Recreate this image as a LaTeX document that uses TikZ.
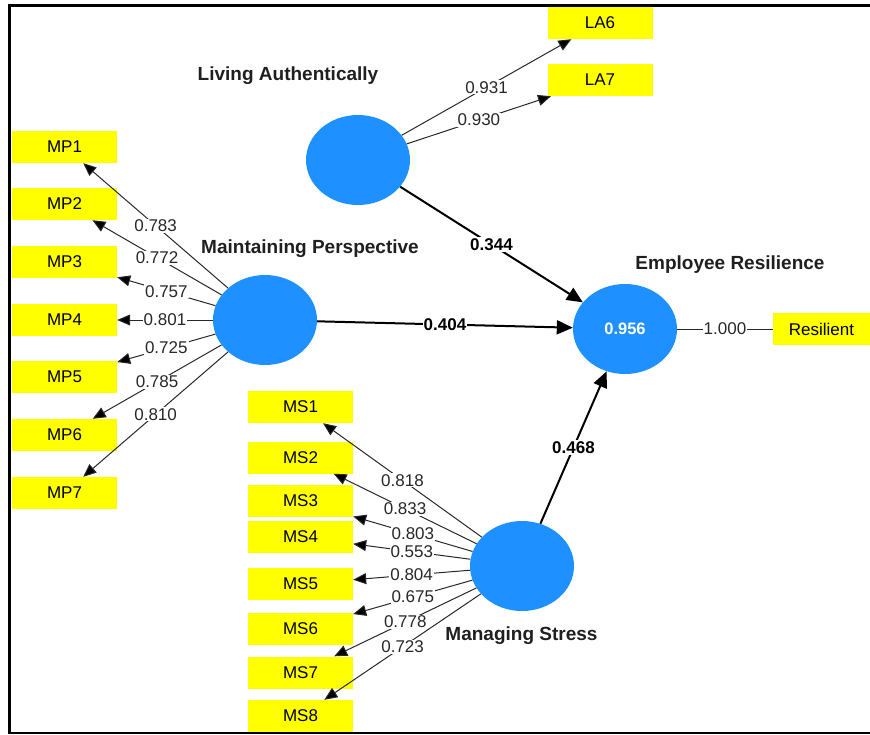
\documentclass[tikz,border=0pt]{standalone}
\usepackage{fontspec}
\setmainfont{Liberation Sans}
\usetikzlibrary{arrows.meta,shapes.geometric}

\definecolor{lvblue}{RGB}{30,144,255}
\definecolor{indyellow}{RGB}{255,255,0}
\definecolor{loadgray}{RGB}{40,40,40}

\begin{document}
\begin{tikzpicture}[x=1pt,y=-1pt,
  latent/.style={ellipse, fill=lvblue, minimum width=104pt, minimum height=90pt,
    inner sep=0pt, text=white, font=\fontsize{16.5}{19}\selectfont\bfseries},
  indicator/.style={rectangle, fill=indyellow, minimum width=105pt, minimum height=32pt,
    inner sep=0pt, text=black, font=\fontsize{17}{19}\selectfont},
  lvname/.style={text=black!88, font=\fontsize{19}{22}\selectfont\bfseries},
  loading/.style={draw=loadgray, line width=1pt,
    -{Triangle[length=13pt,width=11pt,fill=black]}},
  path/.style={draw=black, line width=2pt, -{Triangle[length=16pt,width=14pt]}},
  loadlbl/.style={midway, fill=white, inner sep=1pt, text=loadgray,
    font=\fontsize{17}{19}\selectfont},
  pathlbl/.style={midway, fill=white, inner sep=1pt, text=black,
    font=\fontsize{17}{19}\selectfont\bfseries}]

\useasboundingbox (0,0) rectangle (870,734);

% frame
\draw[line width=3pt] (9.5,734) -- (9.5,5.5) -- (870,5.5);
\draw[line width=2pt] (8,733) -- (870,733);

% latent variables
\node[latent] (LA) at (358,160) {};
\node[latent] (MP) at (265,320) {};
\node[latent] (ER) at (625,329) {0.956};
\node[latent] (MS) at (522,566) {};

\node[lvname] (LAname) at (288,76) {Living Authentically};
\node[lvname] (MPname) at (310,249) {Maintaining Perspective};
\node[lvname] (ERname) at (730,265) {Employee Resilience};
\node[lvname] (MSname) at (521.5,636) {Managing Stress};

% indicators
\node[indicator] (LA6) at (600,23) {LA6};
\node[indicator] (LA7) at (600,80) {LA7};

\node[indicator] (MP1) at (64.5,147) {MP1};
\node[indicator] (MP2) at (64.5,204) {MP2};
\node[indicator] (MP3) at (64.5,262) {MP3};
\node[indicator] (MP4) at (64.5,320) {MP4};
\node[indicator] (MP5) at (64.5,377) {MP5};
\node[indicator] (MP6) at (64.5,435) {MP6};
\node[indicator] (MP7) at (64.5,493) {MP7};

\node[indicator] (MS1) at (300.5,407) {MS1};
\node[indicator] (MS2) at (300.5,457.5) {MS2};
\node[indicator] (MS3) at (300.5,501) {MS3};
\node[indicator] (MS4) at (300.5,537) {MS4};
\node[indicator] (MS5) at (300.5,584) {MS5};
\node[indicator] (MS6) at (300.5,629) {MS6};
\node[indicator] (MS7) at (300.5,672.5) {MS7};
\node[indicator] (MS8) at (300.5,716) {MS8};

\node[indicator, minimum width=97pt] (RES) at (821.5,329) {Resilient};

% outer loadings
\draw[loading] (LA) -- node[loadlbl] {0.931} (LA6);
\draw[loading] (LA) -- node[loadlbl] {0.930} (LA7);

\draw[loading] (MP) -- node[loadlbl] {0.783} (MP1);
\draw[loading] (MP) -- node[loadlbl] {0.772} (MP2);
\draw[loading] (MP) -- node[loadlbl] {0.757} (MP3);
\draw[loading] (MP) -- node[loadlbl] {0.801} (MP4);
\draw[loading] (MP) -- node[loadlbl] {0.725} (MP5);
\draw[loading] (MP) -- node[loadlbl] {0.785} (MP6);
\draw[loading] (MP) -- node[loadlbl] {0.810} (MP7);

\draw[loading] (MS) -- node[loadlbl] {0.818} (MS1);
\draw[loading] (MS) -- node[loadlbl] {0.833} (MS2);
\draw[loading] (MS) -- node[loadlbl] {0.803} (MS3);
\draw[loading] (MS) -- node[loadlbl] {0.553} (MS4);
\draw[loading] (MS) -- node[loadlbl] {0.804} (MS5);
\draw[loading] (MS) -- node[loadlbl] {0.675} (MS6);
\draw[loading] (MS) -- node[loadlbl] {0.778} (MS7);
\draw[loading] (MS) -- node[loadlbl] {0.723} (MS8);

\draw[draw=loadgray, line width=1pt] (ER) -- node[loadlbl] {1.000} (RES);

% structural paths
\draw[path] (LA) -- node[pathlbl] {0.344} (ER);
\draw[path] (MP) -- node[pathlbl] {0.404} (ER);
\draw[path] (MS) -- node[pathlbl] {0.468} (ER);

\end{tikzpicture}
\end{document}
